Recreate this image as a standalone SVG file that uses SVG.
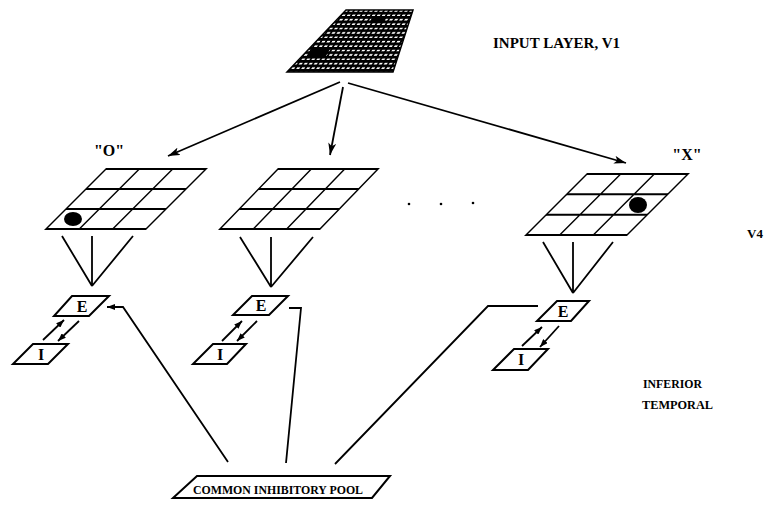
<svg xmlns="http://www.w3.org/2000/svg" width="766" height="511" viewBox="0 0 766 511">
<defs>
<style>
.lbl{font-family:"Liberation Serif","Times New Roman",serif;font-weight:bold;fill:#000}
.grid{fill:#fff;stroke:#000;stroke-width:2}
.gl{stroke:#000;stroke-width:2;fill:none}
.box{fill:#fff;stroke:#000;stroke-width:2}
.cn{stroke:#000;stroke-width:1.8;fill:none}
</style>
<marker id="ah" viewBox="0 0 12 8" refX="12" refY="4" markerWidth="12" markerHeight="8" markerUnits="userSpaceOnUse" orient="auto">
<path d="M0,0 L12,4 L0,8 L3,4 Z" fill="#000"/>
</marker>
<marker id="sa" viewBox="0 0 8 6" refX="8" refY="3" markerWidth="8" markerHeight="6" markerUnits="userSpaceOnUse" orient="auto">
<path d="M0,0 L8,3 L0,6 Z" fill="#000"/>
</marker>
<pattern id="dots" patternUnits="userSpaceOnUse" width="5" height="4.4" patternTransform="skewX(-30)">
<rect width="5" height="4.4" fill="#000"/>
<rect x="1" y="1.3" width="3" height="1.6" fill="#fff"/>
</pattern>
</defs>
<rect width="766" height="511" fill="#fff"/>

<g id="input-layer">
<polygon points="346,10 413,10 393,72 287,72" fill="url(#dots)" stroke="#000" stroke-width="1.5"/>
<polygon points="312,49 330,49 326,56 307,56" fill="#000"/>
<polygon points="372,18 386,18 384,23 369,23" fill="#000"/>
</g>
<text class="lbl" x="493" y="48" font-size="14" textLength="127" lengthAdjust="spacingAndGlyphs">INPUT LAYER, V1</text>

<g id="grid-o">
<g transform="matrix(1,0,-1,1,106,169)">
<rect class="grid" x="0" y="0" width="100" height="60"/>
<path class="gl" d="M33.3,0V60M66.7,0V60M0,20H100M0,40H100"/>
</g>
<ellipse cx="73" cy="219" rx="9" ry="7" fill="#000"/>
<text class="lbl" x="109" y="156" font-size="16" text-anchor="middle">"O"</text>
</g>

<g id="grid-mid">
<g transform="matrix(1,0,-0.967,1,278,169)">
<rect class="grid" x="0" y="0" width="100" height="60"/>
<path class="gl" d="M33.3,0V60M66.7,0V60M0,20H100M0,40H100"/>
</g>
</g>

<g id="ellipsis">
<circle cx="409" cy="204" r="1.3" fill="#000"/>
<circle cx="441" cy="204" r="1.3" fill="#000"/>
<circle cx="473" cy="203" r="1.3" fill="#000"/>
</g>

<g id="grid-x">
<g transform="matrix(1,0,-1,1,587,174)">
<rect class="grid" x="0" y="0" width="101" height="61"/>
<path class="gl" d="M33.7,0V61M67.3,0V61M0,20.3H101M0,40.7H101"/>
</g>
<ellipse cx="638" cy="205" rx="9" ry="8" fill="#000"/>
<text class="lbl" x="687" y="160" font-size="16" text-anchor="middle">"X"</text>
</g>

<text class="lbl" x="747" y="238" font-size="13">V4</text>

<g id="e-left">
<path class="box" d="M72,296H109L89,316H54Z"/>
<text class="lbl" x="82" y="312" font-size="16" text-anchor="middle">E</text>
</g>
<g id="i-left">
<path class="box" d="M33,344H68L48,364H13Z"/>
<text class="lbl" x="41" y="360" font-size="16" text-anchor="middle">I</text>
</g>
<g id="e-mid">
<path class="box" d="M252,296H288L269,315H233Z"/>
<text class="lbl" x="261" y="311" font-size="16" text-anchor="middle">E</text>
</g>
<g id="i-mid">
<path class="box" d="M213,344H246L227,364H193Z"/>
<text class="lbl" x="220" y="360" font-size="16" text-anchor="middle">I</text>
</g>
<g id="e-right">
<path class="box" d="M557,301H589L571,321H537Z"/>
<text class="lbl" x="563" y="317" font-size="16" text-anchor="middle">E</text>
</g>
<g id="i-right">
<path class="box" d="M514,349H548L528,370H493Z"/>
<text class="lbl" x="521" y="365" font-size="16" text-anchor="middle">I</text>
</g>

<text class="lbl" x="643" y="388" font-size="13" textLength="59" lengthAdjust="spacingAndGlyphs">INFERIOR</text>
<text class="lbl" x="642" y="409" font-size="13" textLength="71" lengthAdjust="spacingAndGlyphs">TEMPORAL</text>

<g id="pool">
<path class="box" d="M197,476H390L372,498H173Z"/>
<text class="lbl" x="278" y="494" font-size="12" text-anchor="middle" textLength="170" lengthAdjust="spacingAndGlyphs">COMMON INHIBITORY POOL</text>
</g>

<g id="connectors">
<line class="cn" x1="340" y1="82" x2="168" y2="156" marker-end="url(#ah)"/>
<line class="cn" x1="343" y1="87" x2="330" y2="155" marker-end="url(#ah)"/>
<line class="cn" x1="348" y1="83" x2="626" y2="163" marker-end="url(#ah)"/>

<path class="cn" d="M62,236L92,286M92,236V286M133,236L92,286"/>
<path class="cn" d="M240,237L271,287M271,237V287M313,237L271,287"/>
<path class="cn" d="M543,242L573,293M573,242V293M613,242L573,293"/>

<line class="cn" x1="43" y1="340" x2="64" y2="320" marker-end="url(#sa)"/>
<line class="cn" x1="79" y1="321" x2="58" y2="341" marker-end="url(#sa)"/>
<line class="cn" x1="222" y1="341" x2="242" y2="321" marker-end="url(#sa)"/>
<line class="cn" x1="257" y1="321" x2="237" y2="341" marker-end="url(#sa)"/>
<line class="cn" x1="522" y1="346" x2="542" y2="327" marker-end="url(#sa)"/>
<line class="cn" x1="559" y1="326" x2="540" y2="347" marker-end="url(#sa)"/>

<polyline class="cn" points="228,462 123,307 107,307" marker-end="url(#sa)"/>
<polyline class="cn" points="286,463 301,308 289,308"/>
<polyline class="cn" points="335,464 488,306 538,306"/>
</g>
</svg>
